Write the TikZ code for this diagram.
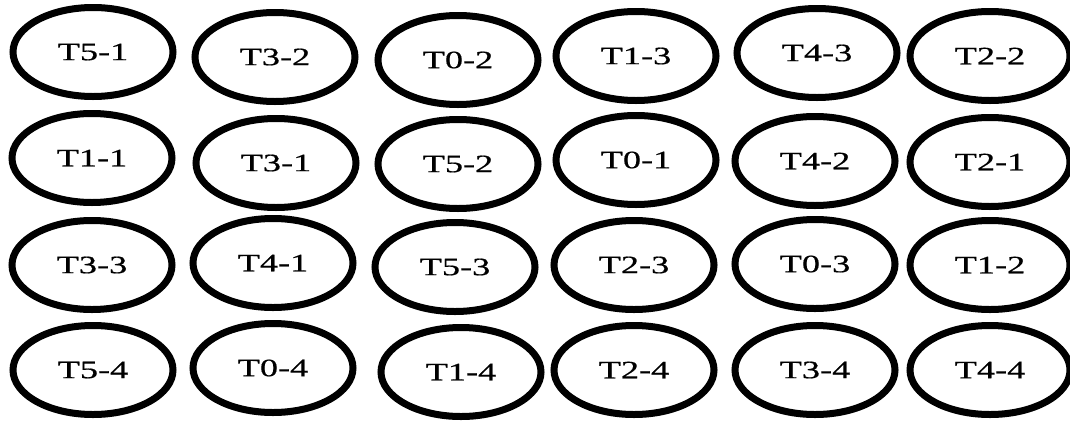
\documentclass[tikz,border=0pt]{standalone}
\usepackage{fontspec}
\setmainfont{Liberation Serif}[FakeStretch=1.45,FakeBold=0.6]
\usetikzlibrary{shapes.geometric}
\begin{document}
\begin{tikzpicture}[x=1pt,y=-1pt,
  cell/.style={ellipse, draw=black, line width=7pt, minimum width=160pt, minimum height=89pt, inner sep=0pt, font=\fontsize{25}{25}\selectfont}]
\useasboundingbox (0,0) rectangle (1070,421);
% row 1
\node[cell] (a1) at (93,52) {T5-1};
\node[cell] (a2) at (275,57) {T3-2};
\node[cell] (a3) at (458,60) {T0-2};
\node[cell] (a4) at (636,56) {T1-3};
\node[cell] (a5) at (817,53) {T4-3};
\node[cell] (a6) at (990,56) {T2-2};
% row 2
\node[cell] (b1) at (92,158) {T1-1};
\node[cell] (b2) at (276,163) {T3-1};
\node[cell] (b3) at (458,164) {T5-2};
\node[cell] (b4) at (636,160) {T0-1};
\node[cell] (b5) at (815,161) {T4-2};
\node[cell] (b6) at (990,162) {T2-1};
% row 3
\node[cell] (c1) at (92,265) {T3-3};
\node[cell] (c2) at (273,263) {T4-1};
\node[cell] (c3) at (455,267) {T5-3};
\node[cell] (c4) at (634,265) {T2-3};
\node[cell] (c5) at (815,264) {T0-3};
\node[cell] (c6) at (990,265) {T1-2};
% row 4
\node[cell] (d1) at (93,370) {T5-4};
\node[cell] (d2) at (273,368) {T0-4};
\node[cell] (d3) at (461,372) {T1-4};
\node[cell] (d4) at (634,370) {T2-4};
\node[cell] (d5) at (815,370) {T3-4};
\node[cell] (d6) at (990,370) {T4-4};
\end{tikzpicture}
\end{document}
